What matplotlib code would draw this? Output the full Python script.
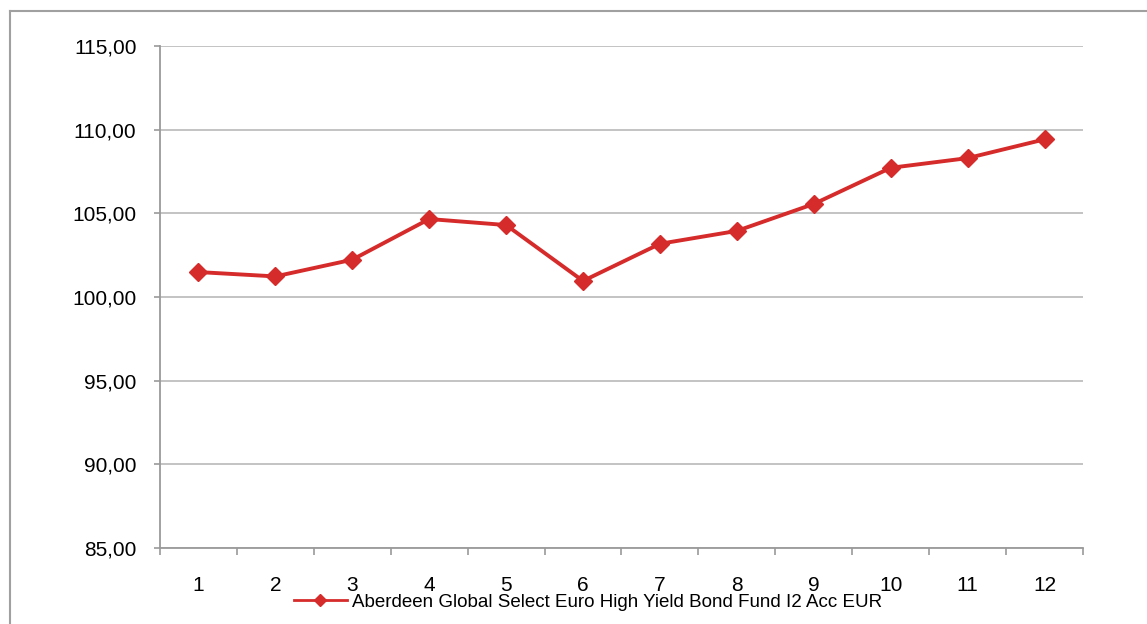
import matplotlib.pyplot as plt
from matplotlib.lines import Line2D
from matplotlib.ticker import FuncFormatter, MultipleLocator

months = [1, 2, 3, 4, 5, 6, 7, 8, 9, 10, 11, 12]
values = [101.49, 101.23, 102.23, 104.66, 104.30, 100.96,
          103.18, 103.95, 105.56, 107.72, 108.30, 109.42]
series_name = 'Aberdeen Global Select Euro High Yield Bond Fund I2 Acc EUR'

plt.rcParams['font.family'] = ['Liberation Sans', 'DejaVu Sans']

fig = plt.figure(figsize=(11.47, 6.24), dpi=100)
ax = fig.add_axes([160 / 1147, 1 - 548 / 624, 923 / 1147, 502 / 624])

red = '#D62B2B'
axis_gray = '#9A9A9A'
ax.plot(months, values, color=red, lw=2.8, marker='D', ms=9,
        markeredgecolor=red, markerfacecolor=red, zorder=3)

ax.set_xlim(0.5, 12.5)
ax.set_ylim(85, 115)
ax.yaxis.set_major_locator(MultipleLocator(5))
ax.yaxis.set_major_formatter(FuncFormatter(lambda v, p: f'{v:.2f}'.replace('.', ',')))
ax.set_xticks(months)
ax.set_xticks([m + 0.5 for m in [0] + months], minor=True)
ax.tick_params(axis='x', which='major', length=0, pad=20, labelsize=15)
ax.tick_params(axis='x', which='minor', length=5, width=1.2, color=axis_gray, direction='out')
ax.tick_params(axis='y', length=4, width=1.2, color=axis_gray, pad=13, labelsize=15)

ax.grid(axis='y', color='#BEBEBE', lw=1.3)
ax.set_axisbelow(True)
for s in ['top', 'right']:
    ax.spines[s].set_visible(False)
for s in ['left', 'bottom']:
    ax.spines[s].set_color(axis_gray)
    ax.spines[s].set_linewidth(1.3)

legend_handle = Line2D([], [], color=red, lw=2, marker='D', ms=6.5,
                       markeredgecolor=red, markerfacecolor=red)
fig.legend(handles=[legend_handle], labels=[series_name],
           loc='center left', bbox_to_anchor=(294 / 1147, 1 - 602 / 624),
           frameon=False, fontsize=13.5, handlelength=2.8, handletextpad=0.3,
           borderpad=0, borderaxespad=0)

# outer chart border
x0, y0 = 9.5 / 1147, 1 - 11 / 624
fig.add_artist(Line2D([x0, 1.0], [y0, y0], color='#A0A0A0', lw=1.5))
fig.add_artist(Line2D([x0, x0], [0.0, y0], color='#A0A0A0', lw=1.5))

fig.savefig('out.png', dpi=100)
